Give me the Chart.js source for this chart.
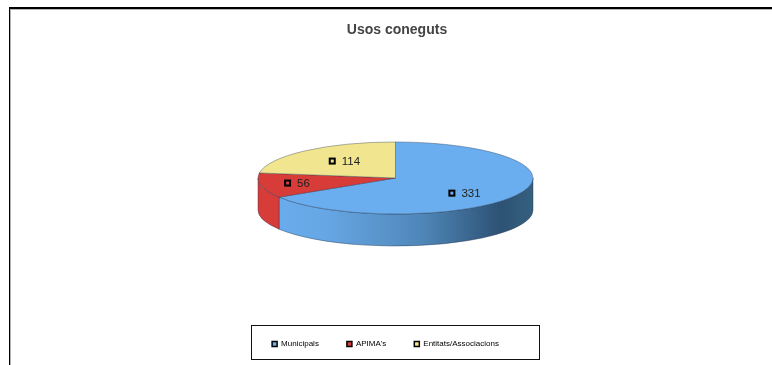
<!DOCTYPE html>
<html>
<head>
<meta charset="utf-8">
<style>
  html, body { margin: 0; padding: 0; background: #fff; }
  #wrap { width: 772px; height: 365px; overflow: hidden; }
  canvas { filter: blur(0.5px); }
</style>
<script src="https://cdn.jsdelivr.net/npm/chart.js@4/dist/chart.umd.min.js"></script>
</head>
<body>
<div id="wrap"><canvas id="pie" width="772" height="365"></canvas></div>
<script>
const categories = ['Municipals', "APIMA's", 'Entitats/Associacions'];
const values = [331, 56, 114];
const colors = ['#6aaef0', '#d83c38', '#f1e68f'];
const chartTitle = 'Usos coneguts';

// look of the flattened pie
const radius = 137.5;
const tilt = 0.262;
const centerY = 178;
const depth = 32;
const edgeColor = 'rgba(35,50,75,0.6)';
// where each value label sits, as a share of the radius from the centre
const labelSpots = [[0.41, 0.42], [-0.785, 0.14], [-0.46, -0.47]];
// title and legend are not quite centred on the pie in the original
const titleShift = 1.5;
const legendShift = -10;

function ellipseY(angle) {
  return centerY + radius * tilt * Math.sin(angle);
}

const framePlugin = {
  id: 'frame',
  beforeDraw(chart) {
    const { ctx, width, height } = chart;
    ctx.save();
    ctx.fillStyle = '#fff';
    ctx.fillRect(0, 0, width, height);
    ctx.fillStyle = '#b5b5b5';
    ctx.fillRect(10, 9, width - 10, 1);
    ctx.fillRect(10, 9, 1, height - 9);
    ctx.fillStyle = '#000';
    ctx.fillRect(9, 7, width - 9, 2);
    ctx.fillRect(9, 7, 1, height - 7);
    ctx.restore();
  }
};

const nudgePlugin = {
  id: 'nudge',
  afterLayout(chart) {
    chart.titleBlock.left += titleShift;
    chart.titleBlock.right += titleShift;
    chart.legend.left += legendShift;
    chart.legend.right += legendShift;
  }
};

const legendBoxPlugin = {
  id: 'legendBox',
  afterDraw(chart) {
    const { ctx, legend } = chart;
    const mid = (legend.left + legend.right) / 2 - legendShift;
    ctx.save();
    ctx.strokeStyle = '#111';
    ctx.lineWidth = 1;
    ctx.strokeRect(Math.floor(mid - 144) + 0.5, 325.5, 288, 34);
    ctx.restore();
  }
};

const tiltPlugin = {
  id: 'tilt',
  beforeDatasetsDraw(chart) {
    const { ctx } = chart;
    const arcs = chart.getDatasetMeta(0).data;
    const cx = arcs[0].x;

    // side wall, only the front half of the ellipse shows
    arcs.forEach((arc, i) => {
      const from = Math.max(arc.startAngle, 0);
      const to = Math.min(arc.endAngle, Math.PI);
      if (to <= from) return;
      ctx.save();
      ctx.beginPath();
      ctx.ellipse(cx, centerY, radius, radius * tilt, 0, from, to);
      ctx.lineTo(cx + radius * Math.cos(to), ellipseY(to) + depth);
      ctx.ellipse(cx, centerY + depth, radius, radius * tilt, 0, to, from, true);
      ctx.closePath();
      if (i === 0) {
        const g = ctx.createLinearGradient(cx - radius, 0, cx + radius, 0);
        g.addColorStop(0, colors[0]);
        g.addColorStop(0.25, '#66a6e4');
        g.addColorStop(0.6, '#4f86b8');
        g.addColorStop(0.88, '#2d5274');
        g.addColorStop(1, '#36607f');
        ctx.fillStyle = g;
      } else {
        ctx.fillStyle = colors[i];
      }
      ctx.fill();
      ctx.strokeStyle = edgeColor;
      ctx.lineWidth = 0.7;
      ctx.stroke();
      ctx.restore();
    });

    const y = arcs[0].y;
    ctx.save();
    ctx.translate(0, centerY);
    ctx.scale(1, tilt);
    ctx.translate(0, -y);
  },
  afterDatasetsDraw(chart) {
    const { ctx } = chart;
    ctx.restore();
    const cx = chart.getDatasetMeta(0).data[0].x;
    ctx.save();
    ctx.font = '11.5px "Liberation Sans", Arial, sans-serif';
    ctx.textBaseline = 'middle';
    values.forEach((value, i) => {
      const x = cx + labelSpots[i][0] * radius;
      const y = centerY + labelSpots[i][1] * radius * tilt;
      ctx.fillStyle = colors[i];
      ctx.fillRect(x - 2.5, y - 2.5, 5, 5);
      ctx.strokeStyle = '#000';
      ctx.lineWidth = 2;
      ctx.strokeRect(x - 2.5, y - 2.5, 5, 5);
      ctx.fillStyle = '#222';
      ctx.fillText(String(value), x + 9.5, y + 1);
    });
    ctx.restore();
  }
};

new Chart(document.getElementById('pie'), {
  type: 'pie',
  data: {
    labels: categories,
    datasets: [{
      data: values,
      backgroundColor: colors,
      borderColor: edgeColor,
      borderWidth: 1,
      radius: radius
    }]
  },
  options: {
    responsive: false,
    animation: false,
    events: [],
    layout: { padding: { left: 19, bottom: 7 } },
    plugins: {
      tooltip: { enabled: false },
      title: {
        display: true,
        text: chartTitle,
        color: '#444',
        font: { family: '"Liberation Sans", Arial, sans-serif', size: 14, weight: 'bold' },
        padding: { top: 22, bottom: 0 }
      },
      legend: {
        position: 'bottom',
        labels: {
          color: '#111',
          font: { family: '"Liberation Sans", Arial, sans-serif', size: 8 },
          boxWidth: 5,
          boxHeight: 5,
          padding: 28,
          generateLabels: () => categories.map((text, i) => ({
            text,
            fillStyle: colors[i],
            strokeStyle: '#000',
            lineWidth: 1.5,
            index: i
          }))
        }
      }
    }
  },
  plugins: [framePlugin, nudgePlugin, tiltPlugin, legendBoxPlugin]
});
</script>
</body>
</html>
